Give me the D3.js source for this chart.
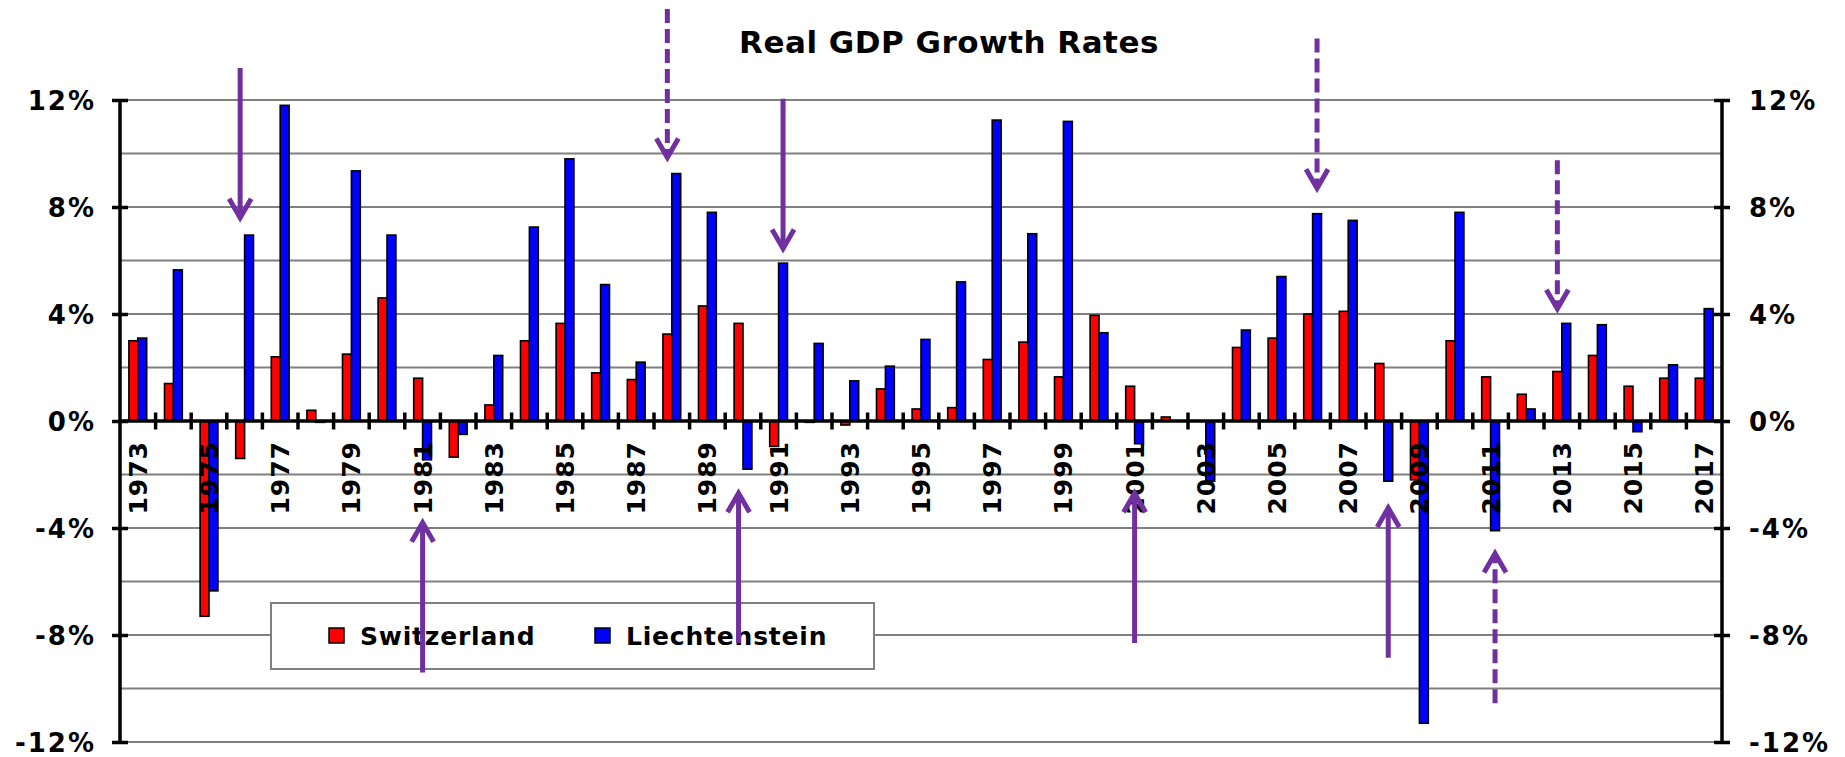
<!DOCTYPE html>
<html>
<head>
<meta charset="utf-8">
<script src="https://cdn.jsdelivr.net/npm/d3@7"></script>
<style>
  html, body { margin: 0; padding: 0; background: #ffffff; }
  svg { display: block; }
  text { font-family: "DejaVu Sans", Verdana, sans-serif; font-weight: bold; fill: #000; }
</style>
</head>
<body>
<svg id="chart" width="1845" height="757"></svg>
<script>
// ---------------- data ----------------
const years = d3.range(1973, 2018);
const seriesNames = ["Switzerland", "Liechtenstein"];
const switzerland = [
  3.0, 1.4, -7.3, -1.4, 2.4, 0.4, 2.5, 4.6, 1.6, -1.35,
  0.6, 3.0, 3.65, 1.8, 1.55, 3.25, 4.3, 3.65, -0.95, -0.05,
  -0.15, 1.2, 0.45, 0.5, 2.3, 2.95, 1.65, 3.95, 1.3, 0.15,
  0.0, 2.75, 3.1, 4.0, 4.1, 2.15, -2.2, 3.0, 1.65, 1.0,
  1.85, 2.45, 1.3, 1.6, 1.6
];
const liechtenstein = [
  3.1, 5.65, -6.35, 6.95, 11.8, -0.05, 9.35, 6.95, -1.45, -0.5,
  2.45, 7.25, 9.8, 5.1, 2.2, 9.25, 7.8, -1.8, 5.9, 2.9,
  1.5, 2.05, 3.05, 5.2, 11.25, 7.0, 11.2, 3.3, -0.85, 0.0,
  -2.25, 3.4, 5.4, 7.75, 7.5, -2.25, -11.3, 7.8, -4.1, 0.45,
  3.65, 3.6, -0.4, 2.1, 4.2
];
const yTicks = [-12, -8, -4, 0, 4, 8, 12];
const gridValues = d3.range(-12, 13, 2);
const labelYears = years.filter(v => (v - 1973) % 2 === 0);
// annotation arrows: year, series they sit on, start and tip values (%)
const arrowYears   = [1976, 1988, 1991, 2006, 2013, 1981, 1990, 2001, 2008, 2011];
const arrowSeries  = ["Switzerland", "Switzerland", "Liechtenstein", "Liechtenstein", "Switzerland", null, "Switzerland", null, "Liechtenstein", "Liechtenstein"];
const arrowFrom    = [13.2, 15.4, 12.05, 14.3, 9.75, -9.4, -8.3, -8.3, -8.85, -10.55];
const arrowTo      = [7.6, 9.85, 6.45, 8.7, 4.2, -3.8, -2.7, -2.7, -3.25, -4.95];
const arrowDashed  = [false, true, false, true, true, false, false, false, false, true];

// ---------------- layout ----------------
(function draw() {
const svg = d3.select("#chart");
const pL = 120, pR = 1722, pT = 100, pB = 742;
const colors = { "Switzerland": "#ff0000", "Liechtenstein": "#0000ff" };
const purple = "#7030a0";

const x = d3.scaleBand().domain(years).range([pL, pR]).paddingInner(0).paddingOuter(0);
const bw = x.bandwidth();
const x1 = d3.scaleBand().domain(seriesNames).range([bw / 4, bw * 3 / 4]).padding(0);
const y = d3.scaleLinear().domain([-12, 12]).range([pB, pT]);

// gridlines
svg.append("g").selectAll("line").data(gridValues.filter(v => v !== 0)).join("line")
  .attr("x1", pL).attr("x2", pR)
  .attr("y1", d => y(d)).attr("y2", d => y(d))
  .attr("stroke", "#808080").attr("stroke-width", 2);

// title
svg.append("text").attr("x", 949).attr("y", 53).attr("text-anchor", "middle")
  .style("font-size", "31px").style("letter-spacing", "0.5px").text("Real GDP Growth Rates");

// bars
const table = years.map((yr, i) => ({ year: yr, values: [
  { name: "Switzerland", value: switzerland[i] },
  { name: "Liechtenstein", value: liechtenstein[i] }
]}));
const gBars = svg.append("g");
gBars.selectAll("g").data(table).join("g")
  .attr("transform", d => `translate(${x(d.year)},0)`)
  .selectAll("rect").data(d => d.values).join("rect")
  .attr("x", d => x1(d.name))
  .attr("width", x1.bandwidth())
  .attr("y", d => Math.min(y(d.value), y(0)))
  .attr("height", d => Math.abs(y(d.value) - y(0)))
  .attr("fill", d => colors[d.name])
  .attr("stroke", "#000").attr("stroke-width", 1.6);

// left axis
const axL = svg.append("g").attr("transform", `translate(${pL},0)`)
  .call(d3.axisLeft(y).tickValues(yTicks).tickFormat(d => d + "%").tickSize(8));
axL.select(".domain").remove();
axL.selectAll(".tick line").attr("x1", -8).attr("x2", 8).attr("stroke", "#000").attr("stroke-width", 3.5);
axL.selectAll(".tick text").attr("x", -24).style("font-size", "26px").style("letter-spacing", "2px")
  .attr("font-family", null).attr("dy", "0.36em");
svg.append("line").attr("x1", pL).attr("x2", pL).attr("y1", pT).attr("y2", pB)
  .attr("stroke", "#000").attr("stroke-width", 3.5);

// right axis
const axR = svg.append("g").attr("transform", `translate(${pR},0)`)
  .call(d3.axisRight(y).tickValues(yTicks).tickFormat(d => d + "%").tickSize(8));
axR.select(".domain").remove();
axR.selectAll(".tick line").attr("x1", -8).attr("x2", 8).attr("stroke", "#000").attr("stroke-width", 3.5);
axR.selectAll(".tick text").attr("x", 27).style("font-size", "26px").style("letter-spacing", "2px")
  .attr("font-family", null).attr("dy", "0.36em");
svg.append("line").attr("x1", pR).attr("x2", pR).attr("y1", pT).attr("y2", pB)
  .attr("stroke", "#000").attr("stroke-width", 3.5);

// x axis (zero line) with boundary ticks
const y0 = y(0);
svg.append("line").attr("x1", pL).attr("x2", pR).attr("y1", y0).attr("y2", y0)
  .attr("stroke", "#000").attr("stroke-width", 3.5);
svg.append("g").selectAll("line").data(years.slice(1)).join("line")
  .attr("x1", d => x(d)).attr("x2", d => x(d))
  .attr("y1", y0 - 8.5).attr("y2", y0 + 8.5)
  .attr("stroke", "#000").attr("stroke-width", 3.5);

// x labels
const axB = svg.append("g").attr("transform", `translate(0,${y0})`)
  .call(d3.axisBottom(x).tickValues(labelYears).tickSize(0));
axB.select(".domain").remove();
axB.selectAll(".tick text")
  .attr("font-family", null)
  .style("font-size", "25px")
  .style("letter-spacing", "1px")
  .attr("transform", "rotate(-90)")
  .attr("text-anchor", "end")
  .attr("x", -20).attr("y", 0).attr("dy", "0.36em");

// legend
const lg = svg.append("g");
lg.append("rect").attr("x", 271).attr("y", 603).attr("width", 603).attr("height", 66)
  .attr("fill", "#fff").attr("stroke", "#808080").attr("stroke-width", 2);
const legendX = [329, 595];
seriesNames.forEach((name, i) => {
  lg.append("rect").attr("x", legendX[i]).attr("y", 628).attr("width", 15).attr("height", 15)
    .attr("fill", colors[name]).attr("stroke", "#000").attr("stroke-width", 1.5);
  lg.append("text").attr("x", legendX[i] + 31).attr("y", 645)
    .style("font-size", "25px").style("letter-spacing", "0.8px").text(name);
});

// arrows
const ga = svg.append("g");
arrowYears.forEach((yr, i) => {
  const cx = x(yr) + (arrowSeries[i] ? x1(arrowSeries[i]) + x1.bandwidth() / 2 : bw / 2);
  const ys = y(arrowFrom[i]), yt = y(arrowTo[i]);
  const dir = yt > ys ? 1 : -1;
  ga.append("line")
    .attr("x1", cx).attr("x2", cx).attr("y1", ys).attr("y2", yt - dir * 3)
    .attr("stroke", purple).attr("stroke-width", 5)
    .attr("stroke-dasharray", arrowDashed[i] ? "14,6" : null);
  ga.append("path")
    .attr("d", `M${cx - 11},${yt - dir * 19} L${cx},${yt} L${cx + 11},${yt - dir * 19}`)
    .attr("fill", "none").attr("stroke", purple).attr("stroke-width", 5)
    .attr("stroke-linejoin", "miter").attr("stroke-linecap", "butt");
});
})();
</script>
</body>
</html>
